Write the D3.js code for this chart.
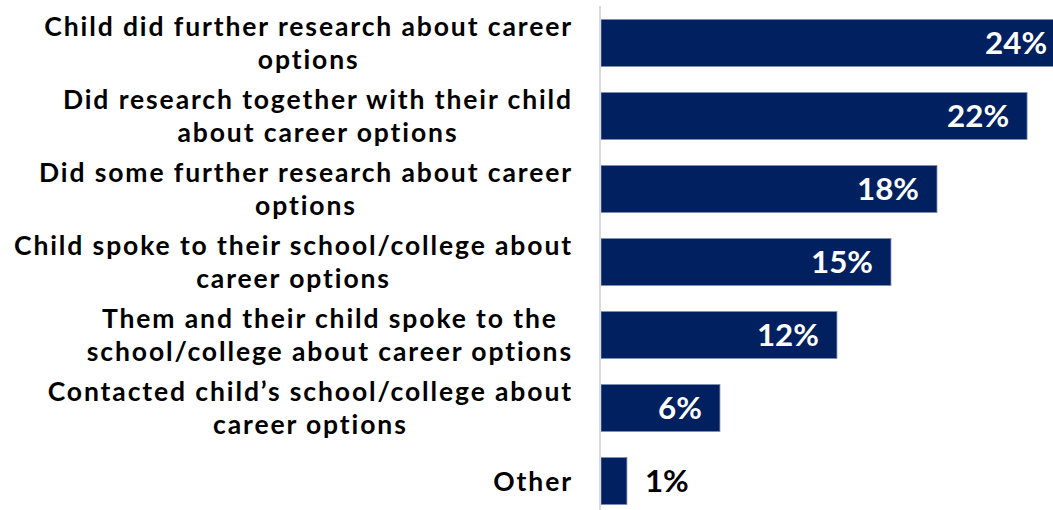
<!DOCTYPE html>
<html>
<head>
<meta charset="utf-8">
<script src="https://cdn.jsdelivr.net/npm/d3@7"></script>
<style>
  html, body { margin: 0; padding: 0; background: #fff; }
  svg { display: block; }
</style>
</head>
<body>
<svg id="chart" width="1053" height="510"></svg>
<script>
// ---- data ----
const categories = [
  "Child did further research about career options",
  "Did research together with their child about career options",
  "Did some further research about career options",
  "Child spoke to their school/college about career options",
  "Them and their child spoke to the school/college about career options",
  "Contacted child\u2019s school/college about career options",
  "Other"
];
const categoryLines = [
  ["Child did further research about career", "options"],
  ["Did research together with their child", "about career options"],
  ["Did some further research about career", "options"],
  ["Child spoke to their school/college about", "career options"],
  ["Them and their child spoke to the", "school/college about career options"],
  ["Contacted child\u2019s school/college about", "career options"],
  ["Other"]
];
const values = [23.8, 21.85, 17.23, 14.87, 12.1, 6.1, 1.33];
const valueLabels = ["24%", "22%", "18%", "15%", "12%", "6%", "1%"];

// ---- layout ----
const W = 1053, H = 510;
const axisX = 601;
const labelRight = 573;
const FONT = "'Lato', 'Liberation Sans', sans-serif";
const navy = "#002060";

const svg = d3.select("#chart");

const x = d3.scaleLinear().domain([0, 25]).range([axisX, axisX + 487.5]);
const y = d3.scaleBand().domain(categories).range([10, 514])
  .paddingInner(0.356).paddingOuter(0.13);

function measure(text, size, weight, ls) {
  const t = svg.append("text").attr("font-family", FONT).attr("font-weight", weight)
    .attr("font-size", size).attr("letter-spacing", ls || 0).text(text);
  const w = t.node().getComputedTextLength();
  t.remove();
  return w;
}
const catSize = 26.5;
const refLine = "Child spoke to their school/college about";
const catLS = (559 - measure(refLine, catSize, 700, 0)) / refLine.length;
const valSize = 100 * 62 / measure("24%", 100, 700);
const lineGap = 33;

// bars
svg.append("g").selectAll("rect").data(categories).join("rect")
  .attr("x", x(0))
  .attr("y", d => y(d))
  .attr("width", (d, i) => x(values[i]) - x(0))
  .attr("height", y.bandwidth())
  .attr("fill", navy)
  .attr("stroke", "#7f8fb5")
  .attr("stroke-width", 0.8);

// axis line
svg.append("line")
  .attr("x1", axisX - 1).attr("x2", axisX - 1)
  .attr("y1", 6).attr("y2", H)
  .attr("stroke", "#d9d9d9").attr("stroke-width", 2);

// category labels
categories.forEach((c, i) => {
  const lines = categoryLines[i];
  const cy = y(c) + y.bandwidth() / 2;
  const g = svg.append("g");
  const texts = lines.map((ln, j) => g.append("text")
    .attr("font-family", FONT).attr("font-weight", 700)
    .attr("font-size", catSize).attr("letter-spacing", catLS).attr("fill", "#000")
    .attr("text-anchor", "middle")
    .attr("x", 0)
    .attr("y", 9.5 + (j - (lines.length - 1) / 2) * lineGap)
    .text(ln));
  const maxW = d3.max(texts, t => t.node().getComputedTextLength());
  g.attr("transform", `translate(${labelRight - maxW / 2},${cy})`);
});

// value labels
categories.forEach((c, i) => {
  const cy = y(c) + y.bandwidth() / 2;
  const end = x(values[i]);
  const inside = (end - x(0)) > 80;
  svg.append("text")
    .attr("font-family", FONT).attr("font-weight", 700)
    .attr("font-size", valSize)
    .attr("fill", inside ? "#fff" : "#000")
    .attr("text-anchor", inside ? "end" : "start")
    .attr("x", inside ? end - 18 : end + 18)
    .attr("y", cy + valSize * 0.36)
    .text(valueLabels[i]);
});
</script>
</body>
</html>
